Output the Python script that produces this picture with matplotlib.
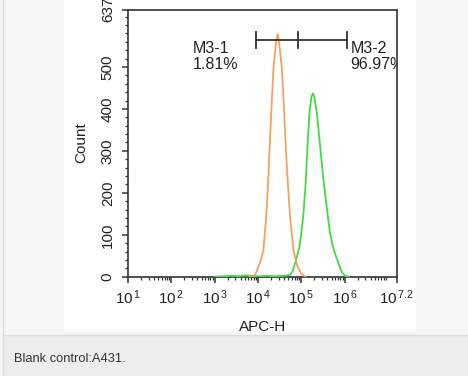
import matplotlib
matplotlib.use("Agg")
import matplotlib.pyplot as plt
from matplotlib.patches import Rectangle
from matplotlib.lines import Line2D
import numpy as np

plt.rcParams['font.family'] = ['Liberation Sans', 'DejaVu Sans']
plt.rcParams['mathtext.fontset'] = 'custom'
plt.rcParams['mathtext.rm'] = 'Liberation Sans'
plt.rcParams['mathtext.it'] = 'Liberation Sans'
plt.rcParams['mathtext.bf'] = 'Liberation Sans:bold'

# Orange histogram (blank control): log10(APC-H) positions and counts
orange_log = [3.80, 3.89, 3.95, 4.01, 4.07, 4.125, 4.19, 4.23, 4.265, 4.31, 4.356, 4.40, 4.435, 4.457,
              4.48, 4.51, 4.55, 4.60, 4.65, 4.70, 4.74, 4.78, 4.82, 4.87, 4.91, 5.00, 5.09]
orange_cnt = [0, 0, 8, 24, 42, 64, 143, 220, 302, 400, 497, 545, 572, 578,
              565, 535, 497, 400, 290, 205, 143, 100, 64, 40, 24, 8, 0]

# Green histogram (A431 sample)
green_log = [3.0, 3.2, 3.4, 3.55, 3.7, 3.85, 4.0, 4.2, 4.4, 4.6, 4.74, 4.80, 4.857, 4.91, 4.956, 5.00,
             5.049, 5.104, 5.141, 5.187, 5.23, 5.266, 5.30, 5.358, 5.434, 5.51, 5.603, 5.66,
             5.727, 5.80, 5.857, 5.93, 6.01, 6.10]
green_cnt = [0, 1, 2, 1, 3, 2, 1, 2, 1, 2, 4, 14, 32, 52, 72, 105,
             151, 230, 310, 390, 428, 437, 428, 390, 310, 230, 151, 105,
             72, 48, 32, 12, 2, 0]

# Gates (log10 positions)
gate_edges = [3.949, 4.933, 6.05]
gate_level = 565
gate_names = ["M3-1", "M3-2"]
gate_pcts = ["1.81%", "96.97%"]

y_ticks = [0, 100, 200, 300, 400, 500, 637]
x_ticks_exp = [1, 2, 3, 4, 5, 6, 7.2]
x_tick_labels = ["10$^{\\,1}$", "10$^{\\,2}$", "10$^{\\,3}$", "10$^{\\,4}$", "10$^{\\,5}$",
                 "10$^{\\,6}$", "10$^{\\,7.2}$"]

fig = plt.figure(figsize=(4.68, 3.76), dpi=100, facecolor='#f5f6f6')

# page backgrounds
fig.patches.append(Rectangle((3/468, 0), 1, 1, transform=fig.transFigure,
                             facecolor='#f5f6f6', edgecolor='none', zorder=-10))
fig.patches.append(Rectangle((64/468, 1-331/376), 352/468, 331/376, transform=fig.transFigure,
                             facecolor='white', edgecolor='none', zorder=-9))

ax = fig.add_axes([128/468, 1-276.7/376, 268.7/468, 267.2/376])
ax.set_facecolor('white')

ax.plot([10**v for v in green_log], green_cnt, color='#3fdc3f', lw=1.3, zorder=3)
ax.plot([10**v for v in orange_log], orange_cnt, color='#f4a35e', lw=1.3, zorder=4)

ax.set_xscale('log')
ax.set_xlim(10**1, 10**7.2)
ax.set_ylim(0, 637)

# gate bar
gx = [10**v for v in gate_edges]
ax.plot([gx[0], gx[-1]], [gate_level, gate_level], color='#333333', lw=1.3, zorder=5)
for g in gx:
    ax.plot([g, g], [gate_level-19, gate_level+19], color='#333333', lw=1.3, zorder=5)

ax.text(10**2.49, 561, gate_names[0] + "\n" + gate_pcts[0], fontsize=11.5, color='#222222',
        ha='left', va='top', linespacing=1.05)
ax.text(10**6.13, 561, gate_names[1] + "\n" + gate_pcts[1], fontsize=11.5, color='#222222',
        ha='left', va='top', linespacing=1.05, clip_on=True)

ax.set_xticks([10**e for e in x_ticks_exp])
ax.set_xticklabels(x_tick_labels, fontsize=11)
minor = []
for d in range(1, 7):
    for m in range(2, 10):
        v = m * 10**d
        if v < 10**7.2:
            minor.append(v)
ax.set_xticks(minor, minor=True)
ax.set_xticklabels([], minor=True)

ax.set_yticks(y_ticks)
ax.set_yticklabels([str(v) for v in y_ticks], fontsize=11, rotation=90, va='center')
ax.set_yticks(list(range(20, 637, 20)), minor=True)

ax.tick_params(axis='both', which='major', direction='out', length=4.5, width=1.1, color='#333333',
               labelcolor='#222222')
ax.tick_params(axis='x', which='major', pad=4)
ax.tick_params(axis='y', which='major', pad=5)
ax.tick_params(axis='both', which='minor', direction='out', length=2.5, width=0.9, color='#333333')
for s in ax.spines.values():
    s.set_color('#333333')
    s.set_linewidth(1.2)

ax.set_xlabel("APC-H", fontsize=11, color='#222222', labelpad=9)
ax.set_ylabel("Count", fontsize=11, color='#222222', labelpad=9)

# caption area drawn over the bottom
fig.patches.append(Rectangle((3/468, 0), 1, 1-335/376, transform=fig.transFigure,
                             facecolor='#eceeee', edgecolor='none', zorder=10))
fig.lines.append(Line2D([3/468, 1], [1-335/376, 1-335/376], transform=fig.transFigure,
                        color='#dcdede', lw=1, zorder=11))
fig.lines.append(Line2D([3/468, 3/468], [0, 1], transform=fig.transFigure, color='#d9dbdb', lw=1, zorder=11))
fig.text(14/468, 1-359/376, "Blank control:A431.", fontsize=9.3, color='#333333',
         ha='left', va='center', zorder=12)

fig.savefig("out.png", dpi=100, facecolor=fig.get_facecolor())
